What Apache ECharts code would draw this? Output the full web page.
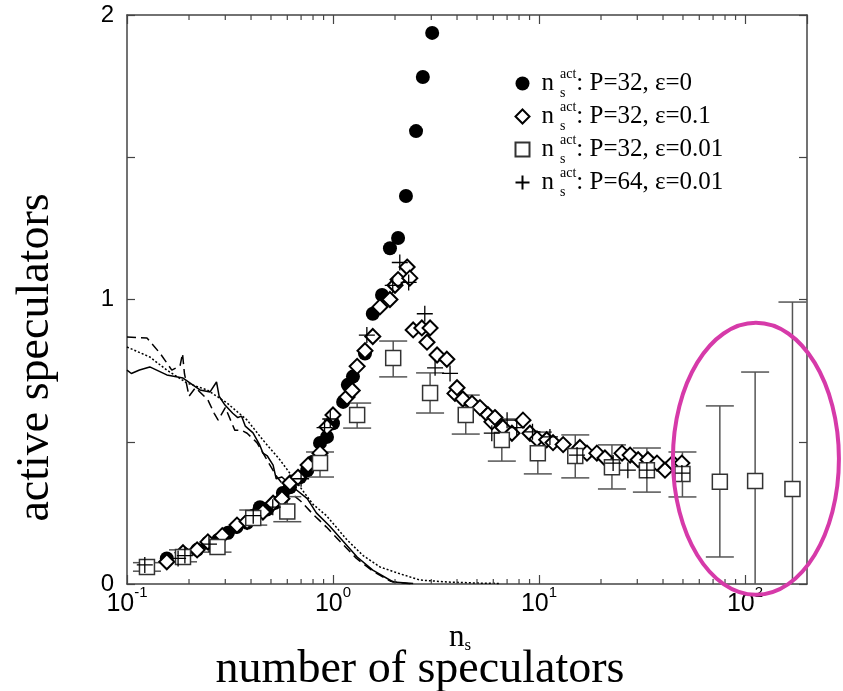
<!DOCTYPE html>
<html><head><meta charset="utf-8">
<script src="https://cdn.jsdelivr.net/npm/echarts@6/dist/echarts.min.js"></script>
<style>html,body{margin:0;padding:0;background:#fff}#c{width:843px;height:691px}</style>
</head><body><div id="c"></div>
<script>
// ---- data ----
const xTickValues = [0.1, 1, 10, 100];
const yTickLabels = [0, 1, 2];
const seriesNames = ['P=32, ε=0', 'P=32, ε=0.1', 'P=32, ε=0.01', 'P=64, ε=0.01'];

const circlesP32e0 = [[0.156,0.09],[0.19,0.105],[0.219,0.12],[0.247,0.145],[0.277,0.155],[0.309,0.18],[0.34,0.2],[0.383,0.215],[0.41,0.24],[0.442,0.27],[0.478,0.262],[0.523,0.285],[0.571,0.32],[0.618,0.34],[0.692,0.375],[0.75,0.4],[0.8,0.43],[0.865,0.496],[0.935,0.517],[1.0,0.565],[1.12,0.64],[1.18,0.70],[1.25,0.729],[1.43,0.81],[1.56,0.95],[1.73,1.016],[1.89,1.18],[2.07,1.216],[2.26,1.364],[2.53,1.592],[2.73,1.782],[3.03,1.937]];

const diamondsP32e01 = [[0.156,0.078],[0.187,0.11],[0.219,0.12],[0.247,0.148],[0.29,0.17],[0.342,0.207],[0.383,0.22],[0.457,0.253],[0.512,0.284],[0.565,0.30],[0.618,0.355],[0.676,0.375],[0.757,0.418],[0.865,0.46],[0.935,0.552],[1.0,0.594],[1.17,0.657],[1.24,0.68],[1.31,0.765],[1.43,0.82],[1.56,0.87],[1.69,0.974],[1.89,1.0],[2.0,1.05],[2.07,1.07],[2.29,1.114],[2.36,1.075],[2.45,0.893],[2.70,0.9],[2.86,0.85],[2.96,0.9],[3.2,0.805],[3.57,0.79],[3.91,0.67],[4.0,0.69],[4.27,0.65],[4.73,0.635],[5.17,0.62],[5.65,0.595],[5.91,0.57],[6.11,0.585],[6.68,0.55],[7.39,0.53],[8.36,0.576],[9.04,0.53],[9.78,0.51],[10.9,0.507],[11.7,0.497],[13.1,0.49],[15.8,0.48],[17.1,0.46],[19.1,0.46],[20.9,0.443],[25.3,0.46],[27.7,0.453],[30.3,0.437],[33.8,0.437],[37.4,0.425],[40.9,0.40],[44.7,0.425],[49.4,0.425]];

// [x, y, lower, upper]
const squaresP32e001 = [[0.125,0.06,0.045,0.075],[0.187,0.095,0.078,0.12],[0.275,0.13,0.112,0.16],[0.41,0.232,0.207,0.26],[0.60,0.255,0.219,0.307],[0.865,0.425,0.376,0.464],[1.31,0.594,0.548,0.636],[1.96,0.794,0.728,0.854],[2.96,0.671,0.601,0.742],[4.41,0.594,0.527,0.664],[6.6,0.506,0.432,0.58],[9.87,0.46,0.387,0.534],[15.0,0.45,0.373,0.524],[22.6,0.41,0.334,0.489],[33.4,0.40,0.323,0.478],[49.7,0.387,0.306,0.464],[75.5,0.359,0.095,0.626],[112,0.362,-0.3,0.745],[170,0.334,-0.3,0.991]];

const plusP64e001 = [[0.122,0.067],[0.177,0.09],[0.191,0.10],[0.25,0.14],[0.41,0.24],[0.51,0.27],[0.7,0.37],[0.91,0.55],[0.97,0.58],[1.46,0.875],[1.95,1.05],[2.11,1.13],[2.33,1.06],[2.79,0.95],[3.13,0.76],[3.7,0.74],[5.9,0.53],[7.0,0.576],[7.8,0.55],[9.3,0.535],[11.3,0.517],[15.3,0.453],[22.9,0.425],[27.0,0.40],[33.4,0.40],[49.4,0.39]];

const curveSolid = [[0.1,0.752],[0.105,0.74],[0.115,0.752],[0.129,0.763],[0.156,0.735],[0.187,0.724],[0.226,0.682],[0.253,0.675],[0.272,0.71],[0.28,0.66],[0.299,0.629],[0.326,0.60],[0.345,0.585],[0.36,0.59],[0.375,0.555],[0.409,0.531],[0.44,0.49],[0.457,0.46],[0.48,0.45],[0.512,0.418],[0.53,0.37],[0.565,0.376],[0.638,0.341],[0.75,0.3],[0.83,0.25],[0.96,0.205],[1.12,0.15],[1.31,0.095],[1.56,0.049],[1.96,0.007],[2.45,0.002]];
const curveDashed = [[0.1,0.868],[0.125,0.865],[0.145,0.81],[0.165,0.752],[0.181,0.767],[0.186,0.81],[0.19,0.74],[0.2,0.66],[0.215,0.69],[0.247,0.647],[0.265,0.6],[0.277,0.576],[0.3,0.62],[0.334,0.54],[0.36,0.54],[0.383,0.53],[0.428,0.496],[0.478,0.436],[0.535,0.376],[0.6,0.33],[0.7,0.29],[0.8,0.245],[0.93,0.2],[1.08,0.15],[1.3,0.09],[1.56,0.045],[1.9,0.01],[2.4,0.0]];
const curveDotted = [[0.1,0.833],[0.129,0.798],[0.156,0.752],[0.196,0.706],[0.245,0.682],[0.306,0.636],[0.383,0.576],[0.457,0.506],[0.553,0.436],[0.692,0.341],[0.8,0.28],[0.93,0.24],[1.17,0.155],[1.4,0.1],[1.69,0.06],[2.05,0.039],[2.64,0.014],[3.58,0.007],[5.19,0.003],[6.5,0.002]];

const ellipseCenter = [113, 0.44];

// ---- chart ----
const serif = 'Liberation Serif';
const sans = 'Liberation Sans';
const axisColor = '#444';
const chart = echarts.init(document.getElementById('c'), null, {renderer: 'canvas'});

function xLabel(v) {
  const l = Math.log10(v), e = Math.round(l);
  if (Math.abs(l - e) > 1e-6 || !xTickValues.some(t => Math.abs(t - v) < 1e-9)) return '';
  return '{b|10}{e|' + e + '}';
}
function yLabel(v) {
  return yTickLabels.some(t => Math.abs(t - v) < 1e-9) ? String(v) : '';
}
function legendFmt(name) {
  return '{n|n}{s|s}{a|act}{t|: ' + name + '}';
}

const lineBase = {type: 'line', showSymbol: false, symbol: 'none', silent: true, z: 1, clip: true};
const option = {
  animation: false,
  backgroundColor: '#fff',
  grid: {left: 127, right: 36, top: 15, bottom: 107, containLabel: false, outerBoundsMode: 'none'},
  xAxis: [{
    type: 'log', logBase: 10, min: 0.1, max: 200, position: 'bottom',
    axisLine: {onZero: false, lineStyle: {color: axisColor, width: 1.5}},
    axisTick: {inside: true, length: 9, lineStyle: {color: axisColor, width: 1.2}},
    splitLine: {show: false},
    axisLabel: {
      formatter: xLabel, margin: 1, showMaxLabel: false,
      rich: {
        b: {fontFamily: sans, fontSize: 25, color: '#000', lineHeight: 32, verticalAlign: 'bottom'},
        e: {fontFamily: sans, fontSize: 15, color: '#000', verticalAlign: 'top', lineHeight: 12}
      }
    },
    name: '{n|n}{s|s}\n{t|number of speculators}',
    nameLocation: 'middle', nameGap: 33,
    nameTextStyle: {
      rich: {
        n: {fontFamily: serif, fontSize: 31, color: '#000', lineHeight: 34},
        s: {fontFamily: serif, fontSize: 17, color: '#000', verticalAlign: 'bottom', lineHeight: 12, padding: [0, 14, 0, 0]},
        t: {fontFamily: serif, fontSize: 46, color: '#000', lineHeight: 32, padding: [0, 94, 0, 0]}
      }
    }
  }, {
    type: 'log', logBase: 10, min: 0.1, max: 200, position: 'top',
    axisLine: {onZero: false, lineStyle: {color: axisColor, width: 1.5}},
    axisTick: {inside: true, length: 9, lineStyle: {color: axisColor, width: 1.2}},
    axisLabel: {show: false}, splitLine: {show: false}
  }],
  yAxis: [{
    type: 'value', min: 0, max: 2, interval: 0.5, position: 'left',
    axisLine: {show: true, onZero: false, lineStyle: {color: axisColor, width: 1.5}},
    axisTick: {show: true, inside: true, length: 8, lineStyle: {color: axisColor, width: 1.2}},
    splitLine: {show: false},
    axisLabel: {formatter: yLabel, margin: 13, fontFamily: sans, fontSize: 24, color: '#000',
      verticalAlignMinLabel: 'middle', verticalAlignMaxLabel: 'middle'},
    name: 'active speculators', nameLocation: 'middle', nameRotate: 90, nameGap: 68,
    nameTextStyle: {fontFamily: serif, fontSize: 46, color: '#000', padding: [0, 116, 0, 0]}
  }, {
    type: 'value', min: 0, max: 2, interval: 0.5, position: 'right',
    axisLine: {show: true, onZero: false, lineStyle: {color: axisColor, width: 1.5}},
    axisTick: {show: true, inside: true, length: 8, lineStyle: {color: axisColor, width: 1.2}},
    splitLine: {show: false}, axisLabel: {show: false}
  }],
  legend: {
    data: seriesNames, orient: 'vertical', left: 508, top: 62, itemGap: 0,
    itemWidth: 14, itemHeight: 14, selectedMode: false,
    formatter: legendFmt,
    textStyle: {
      color: '#000',
      rich: {
        n: {fontFamily: serif, fontSize: 25, color: '#000', lineHeight: 33, padding: [0, 6, 0, 7]},
        s: {fontFamily: serif, fontSize: 14, color: '#000', verticalAlign: 'bottom', lineHeight: 11, width: 0},
        a: {fontFamily: serif, fontSize: 14, color: '#000', verticalAlign: 'top', lineHeight: 14},
        t: {fontFamily: serif, fontSize: 25, color: '#000', lineHeight: 33}
      }
    }
  },
  series: [
    Object.assign({}, lineBase, {name: 'solid', data: curveSolid, lineStyle: {color: '#000', width: 1.5, type: 'solid'}}),
    Object.assign({}, lineBase, {name: 'dashed', data: curveDashed, lineStyle: {color: '#000', width: 1.5, type: [9, 5]}}),
    Object.assign({}, lineBase, {name: 'dotted', data: curveDotted, lineStyle: {color: '#000', width: 1.5, type: [2, 2]}}),
    {
      name: 'errorbars', type: 'custom', silent: true, clip: true, z: 3,
      data: squaresP32e001,
      encode: {x: 0, y: 1},
      renderItem: function (params, api) {
        const x = api.value(0);
        const lo = api.coord([x, api.value(2)]);
        const hi = api.coord([x, api.value(3)]);
        const w = 14, st = {stroke: '#555', lineWidth: 1.5};
        return {type: 'group', children: [
          {type: 'line', shape: {x1: lo[0], y1: lo[1], x2: hi[0], y2: hi[1]}, style: st},
          {type: 'line', shape: {x1: hi[0] - w, y1: hi[1], x2: hi[0] + w, y2: hi[1]}, style: st},
          {type: 'line', shape: {x1: lo[0] - w, y1: lo[1], x2: lo[0] + w, y2: lo[1]}, style: st}
        ]};
      }
    },
    {name: seriesNames[0], type: 'scatter', z: 4, data: circlesP32e0, symbol: 'circle', symbolSize: 14,
      itemStyle: {color: '#000', opacity: 1}},
    {name: seriesNames[1], type: 'scatter', z: 5, data: diamondsP32e01, symbol: 'diamond', symbolSize: 15,
      itemStyle: {color: '#fff', borderColor: '#000', borderWidth: 2, opacity: 1}},
    {name: seriesNames[2], type: 'scatter', z: 6, data: squaresP32e001.map(d => [d[0], d[1]]), symbol: 'rect', symbolSize: 15,
      itemStyle: {color: '#fff', borderColor: '#333', borderWidth: 1.5, opacity: 1}},
    {name: seriesNames[3], type: 'scatter', z: 7, data: plusP64e001, symbol: 'path://M0,5L10,5M5,0L5,10', symbolSize: 16,
      itemStyle: {color: 'none', borderColor: '#000', borderWidth: 1.3, opacity: 1}}
  ]
};
chart.setOption(option);

// minor ticks on the log axes and the annotation ellipse, positioned through the axes
const yBottom = chart.convertToPixel({yAxisIndex: 0}, 0);
const yTop = chart.convertToPixel({yAxisIndex: 0}, 2);
const graphics = [];
for (let k = -1; k <= 2; k++) {
  for (let m = 2; m <= 9; m++) {
    const v = m * Math.pow(10, k);
    if (v >= 200) continue;
    const px = chart.convertToPixel({xAxisIndex: 0}, v);
    graphics.push({type: 'line', silent: true, z: 10, shape: {x1: px, y1: yBottom, x2: px, y2: yBottom - 5}, style: {stroke: axisColor, lineWidth: 1.2}});
    graphics.push({type: 'line', silent: true, z: 10, shape: {x1: px, y1: yTop, x2: px, y2: yTop + 5}, style: {stroke: axisColor, lineWidth: 1.2}});
  }
}
const ec = chart.convertToPixel({xAxisIndex: 0, yAxisIndex: 0}, ellipseCenter);
graphics.push({type: 'ellipse', silent: true, z: 20, shape: {cx: ec[0], cy: ec[1], rx: 83, ry: 136},
  style: {fill: 'none', stroke: '#d63aa9', lineWidth: 4}});
chart.setOption({graphic: graphics});
</script>
</body></html>
